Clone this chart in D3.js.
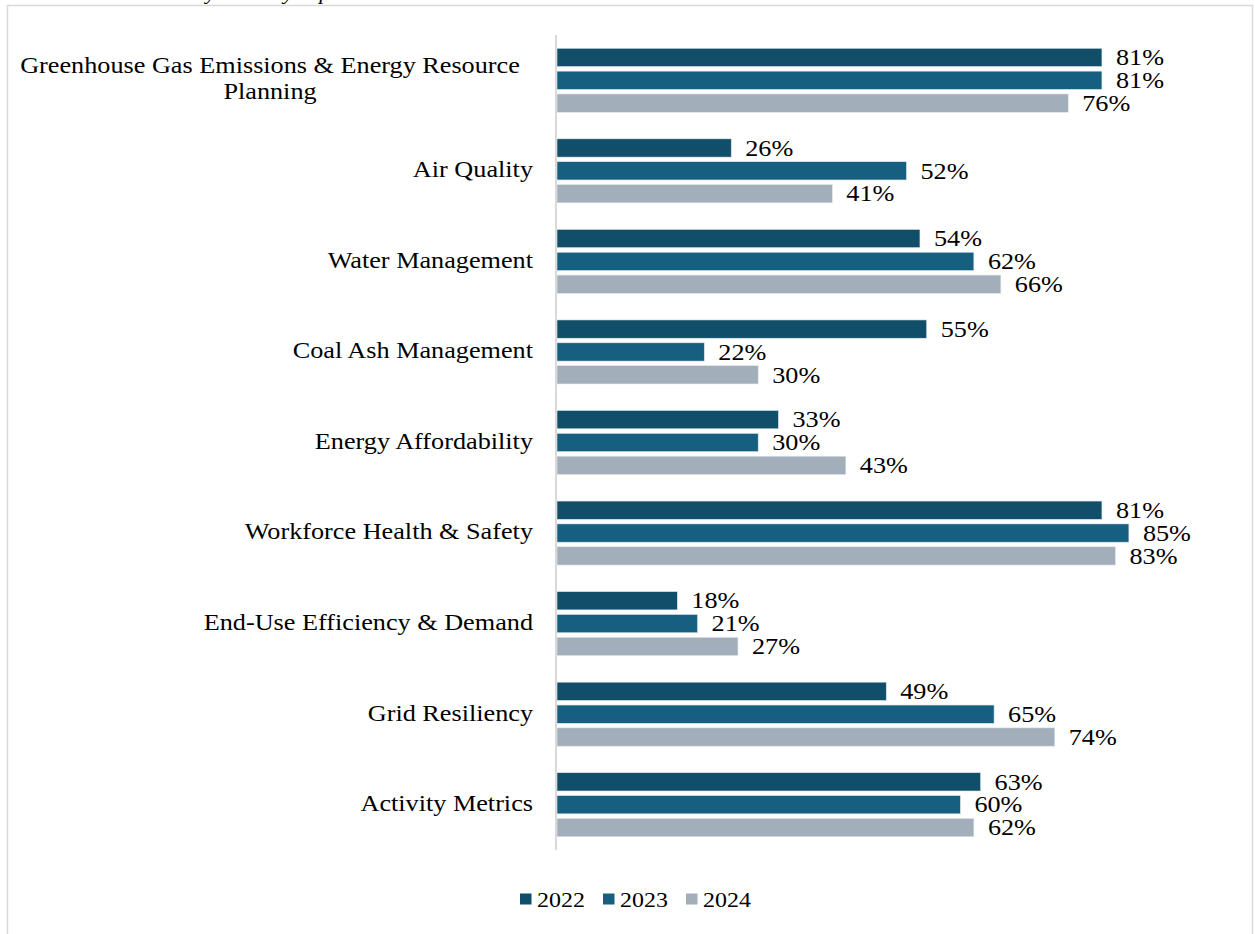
<!DOCTYPE html>
<html><head><meta charset="utf-8">
<script src="https://cdn.jsdelivr.net/npm/d3@7"></script>
<style>body{margin:0;background:#fff;} svg{display:block;} text{font-family:"Liberation Serif","Times New Roman",serif;fill:#000;}</style>
</head><body>
<script>
const categories = ["Greenhouse Gas Emissions & Energy Resource Planning","Air Quality","Water Management","Coal Ash Management","Energy Affordability","Workforce Health & Safety","End-Use Efficiency & Demand","Grid Resiliency","Activity Metrics"];
const categoryLines = [["Greenhouse Gas Emissions & Energy Resource","Planning"],["Air Quality"],["Water Management"],["Coal Ash Management"],["Energy Affordability"],["Workforce Health & Safety"],["End-Use Efficiency & Demand"],["Grid Resiliency"],["Activity Metrics"]];
const seriesNames = ["2022","2023","2024"];
const values2022 = [81,26,54,55,33,81,18,49,63];
const values2023 = [81,52,62,22,30,85,21,65,60];
const values2024 = [76,41,66,30,43,83,27,74,62];
const colors = ["#114E69","#175F81","#A2AEB9"];

const W=1255,H=934, SX=1.14;
const svg=d3.select("body").append("svg").attr("width",W).attr("height",H);
svg.append("rect").attr("x",7.5).attr("y",5.5).attr("width",1245).attr("height",940).attr("fill","none").attr("stroke","#d9d9d9").attr("stroke-width",1.5);

function stext(x,y,str,size,anchor,italic){
  const t=svg.append("g").attr("transform",`translate(${x},${y}) scale(${SX},1)`)
    .append("text").attr("x",0).attr("y",0).attr("font-size",size).attr("text-anchor",anchor||"start").text(str);
  if(italic) t.attr("font-style","italic");
  return t;
}
// clipped title above the frame (only descenders visible)
stext(190,0,"Exhibit 3: Disclosure Rates",19,"end",true);
stext(195,0,"by Industry Topic",19,"start",true);

const x0=556;
const x=d3.scaleLinear().domain([0,100]).range([x0,x0+674]);
const y=d3.scaleBand().domain(categories).range([35,850]);
const inner=d3.scaleBand().domain(seriesNames).range([0,64]).paddingInner(0.2);
const data=[values2022,values2023,values2024];
const gpad=(y.bandwidth()-64)/2;

categories.forEach((c,i)=>{
  const top=y(c)+gpad;
  seriesNames.forEach((s,j)=>{
    const v=data[j][i];
    svg.append("rect").attr("x",x(0)+1).attr("y",top+inner(s)).attr("width",x(v)-x(0)-1).attr("height",inner.bandwidth())
      .attr("fill",colors[j]).attr("stroke","#dfe6ea").attr("stroke-width",0.6);
    stext(x(v)+14, top+inner(s)+inner.bandwidth()/2+7.7, v+"%", 23, "start");
  });
  const lines=categoryLines[i];
  const cy=y(c)+y.bandwidth()/2;
  if(lines.length===1){
    stext(533, cy+6.4, lines[0], 23, "end");
  } else {
    lines.forEach((l,k)=>{
      stext(270, cy+6+(k-(lines.length-1)/2)*26, l, 23, "middle");
    });
  }
});
svg.append("line").attr("x1",x0).attr("x2",x0).attr("y1",35).attr("y2",850).attr("stroke","#d9d9d9").attr("stroke-width",2);

// legend
const legX=[520,603,686];
seriesNames.forEach((s,j)=>{
  svg.append("rect").attr("x",legX[j]).attr("y",893.5).attr("width",11.5).attr("height",11).attr("fill",colors[j]);
  stext(legX[j]+17, 906.5, s, 21, "start");
});
</script>
</body></html>
